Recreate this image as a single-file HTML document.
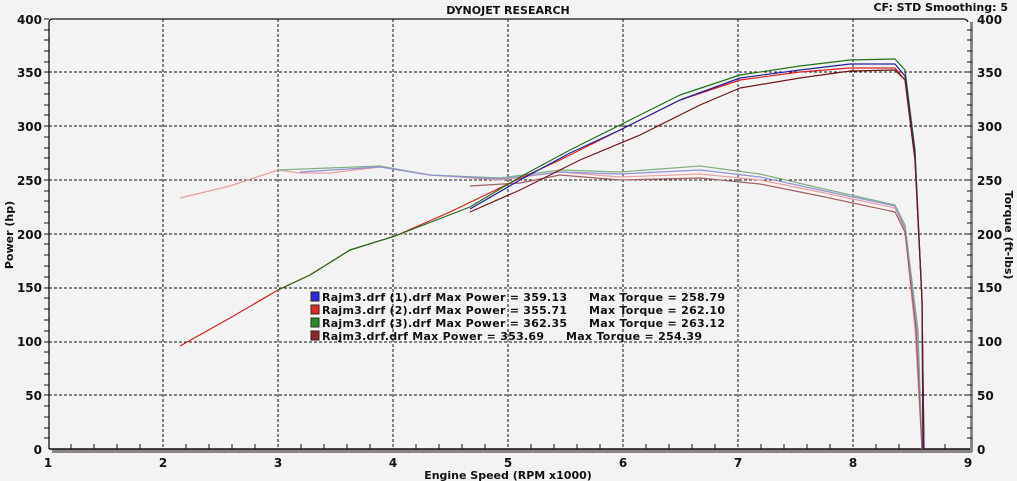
<!DOCTYPE html>
<html><head><meta charset="utf-8"><style>
body{margin:0;background:#f4f3f3}
svg{display:block}
text{font-family:"DejaVu Sans","Liberation Sans",sans-serif;font-weight:bold;fill:#111}
</style></head><body>
<svg width="1017" height="481" viewBox="0 0 1017 481">
<rect width="1017" height="481" fill="#f4f3f3"/>
<g stroke="#111" stroke-width="1" stroke-dasharray="3,2">
<line x1="163" y1="19" x2="163" y2="449"/><line x1="278" y1="19" x2="278" y2="449"/>
<line x1="393" y1="19" x2="393" y2="449"/><line x1="508" y1="19" x2="508" y2="449"/>
<line x1="623" y1="19" x2="623" y2="449"/><line x1="738" y1="19" x2="738" y2="449"/>
<line x1="853" y1="19" x2="853" y2="449"/>
<line x1="49" y1="72" x2="967" y2="72"/><line x1="49" y1="126" x2="967" y2="126"/>
<line x1="49" y1="180" x2="967" y2="180"/><line x1="49" y1="234" x2="967" y2="234"/>
<line x1="49" y1="288" x2="967" y2="288"/><line x1="49" y1="342" x2="967" y2="342"/>
<line x1="49" y1="395" x2="967" y2="395"/>
</g>
<path d="M49,449 V23 Q49,19 53,19 H963 Q967,19 968,22" fill="none" stroke="#111" stroke-width="1.3"/>
<rect x="970" y="22" width="3" height="430" fill="#8a8583"/>
<rect x="52" y="449" width="920" height="4" fill="#8a8583"/>
<line x1="49" y1="449" x2="970" y2="449" stroke="#111" stroke-width="1.5"/>
<g stroke="#111" stroke-width="1">
<path d="M44,19H49M44,30H49M44,40H49M44,51H49M44,62H49M44,72H49M44,83H49M44,94H49M44,105H49M44,115H49M44,126H49M44,137H49M44,148H49M44,158H49M44,169H49M44,180H49M44,191H49M44,201H49M44,212H49M44,223H49M44,234H49M44,244H49M44,255H49M44,266H49M44,277H49M44,288H49M44,298H49M44,309H49M44,320H49M44,331H49M44,342H49M44,352H49M44,363H49M44,374H49M44,385H49M44,395H49M44,406H49M44,417H49M44,428H49M44,438H49"/>
<path d="M967,30H972M967,40H972M967,51H972M967,62H972M967,72H972M967,83H972M967,94H972M967,105H972M967,115H972M967,126H972M967,137H972M967,148H972M967,158H972M967,169H972M967,180H972M967,191H972M967,201H972M967,212H972M967,223H972M967,234H972M967,244H972M967,255H972M967,266H972M967,277H972M967,288H972M967,298H972M967,309H972M967,320H972M967,331H972M967,342H972M967,352H972M967,363H972M967,374H972M967,385H972M967,395H972M967,406H972M967,417H972M967,428H972M967,438H972"/>
<path d="M71,444V449M94,444V449M117,444V449M140,444V449M186,444V449M209,444V449M232,444V449M255,444V449M301,444V449M324,444V449M347,444V449M370,444V449M416,444V449M439,444V449M462,444V449M485,444V449M531,444V449M554,444V449M577,444V449M600,444V449M646,444V449M669,444V449M692,444V449M715,444V449M761,444V449M784,444V449M807,444V449M830,444V449M876,444V449M899,444V449M922,444V449M945,444V449"/>
</g>
<g font-size="11">
<text x="508" y="14" text-anchor="middle">DYNOJET RESEARCH</text>
<text x="1008" y="11" text-anchor="end">CF: STD  Smoothing: 5</text>
</g>
<g font-size="12">
<g text-anchor="end"><text x="42" y="24">400</text><text x="42" y="77">350</text><text x="42" y="131">300</text><text x="42" y="185">250</text><text x="42" y="239">200</text><text x="42" y="292">150</text><text x="42" y="346">100</text><text x="42" y="400">50</text><text x="42" y="454">0</text></g>
<g><text x="977" y="24">400</text><text x="977" y="77">350</text><text x="977" y="131">300</text><text x="977" y="185">250</text><text x="977" y="239">200</text><text x="977" y="292">150</text><text x="977" y="346">100</text><text x="977" y="400">50</text><text x="977" y="454">0</text></g>
<g text-anchor="middle"><text x="48" y="467">1</text><text x="163" y="467">2</text><text x="278" y="467">3</text><text x="393" y="467">4</text><text x="508" y="467">5</text><text x="623" y="467">6</text><text x="738" y="467">7</text><text x="853" y="467">8</text><text x="968" y="467">9</text></g>
</g>
<g font-size="11">
<text x="508" y="479" text-anchor="middle">Engine Speed (RPM x1000)</text>
<text transform="translate(13,235) rotate(-90)" text-anchor="middle">Power (hp)</text>
<text transform="translate(1005,235) rotate(90)" text-anchor="middle">Torque (ft-lbs)</text>
</g>
<g fill="none" stroke-width="1.2" stroke-linejoin="round">
<path stroke="#e8a0a0" d="M180,198 L230,186 278,170 300,173 330,173 380,167 430,175 500,180 560,172 620,177 700,174 760,180 820,192 895,208 905,230 915,330 922,449"/>
<path stroke="#7fb07f" d="M278,170 L380,166 430,175 500,178 560,170 620,172 700,166 760,174 820,188 895,205 905,225 918,330 922,449"/>
<path stroke="#9090d8" d="M300,172 L380,167 430,175 500,179 560,172 620,174 700,170 760,177 820,190 895,206 905,228 917,330 922,449"/>
<path stroke="#a06060" d="M470,186 L520,183 560,175 620,180 700,178 760,184 820,196 895,212 905,232 916,330 922,449"/>
<path stroke="#d82020" d="M180,346 L230,318 278,290 310,275 350,250 395,236 450,212 510,183 560,160 620,130 680,100 740,80 800,72 850,68 895,68 905,80 915,160 922,300 924,449"/>
<path stroke="#207020" d="M278,290 L310,275 350,250 395,236 470,207 520,177 570,150 620,125 680,95 740,75 800,66 850,60 895,59 905,70 915,150 922,300 923,449"/>
<path stroke="#2020a0" d="M470,209 L520,180 570,153 620,130 680,100 740,78 800,70 850,64 895,64 905,76 915,155 922,300 923,449"/>
<path stroke="#701818" d="M470,212 L520,190 580,160 640,135 700,105 740,88 800,78 850,71 895,70 905,80 915,160 922,300 924,449"/>
</g>
<g font-size="11">
<rect x="311" y="292" width="8" height="9" fill="#2a2ae0" stroke="#223"/>
<rect x="311" y="305" width="8" height="9" fill="#e02a2a" stroke="#322"/>
<rect x="311" y="318" width="8" height="9" fill="#2a8a2a" stroke="#232"/>
<rect x="311" y="331" width="8" height="9" fill="#8a2a2a" stroke="#322"/>
<text x="322" y="301" textLength="245">Rajm3.drf (1).drf Max Power = 359.13</text><text x="589" y="301" textLength="136">Max Torque = 258.79</text>
<text x="322" y="314" textLength="245">Rajm3.drf (2).drf Max Power = 355.71</text><text x="589" y="314" textLength="136">Max Torque = 262.10</text>
<text x="322" y="327" textLength="245">Rajm3.drf (3).drf Max Power = 362.35</text><text x="589" y="327" textLength="136">Max Torque = 263.12</text>
<text x="322" y="340" textLength="222">Rajm3.drf.drf Max Power = 353.69</text><text x="566" y="340" textLength="136">Max Torque = 254.39</text>
</g>
</svg>
</body></html>
